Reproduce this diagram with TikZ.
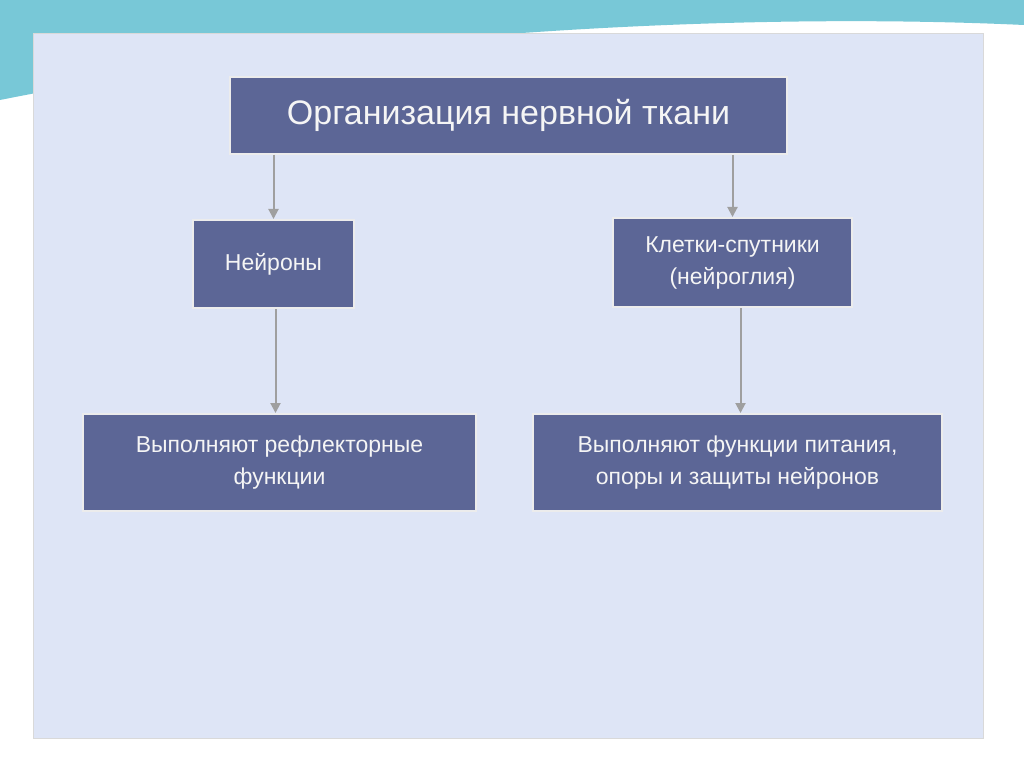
\documentclass[tikz,border=0pt]{standalone}
\usepackage{fontspec}
\setmainfont{Liberation Sans}
\usetikzlibrary{arrows.meta,positioning}
\definecolor{panel}{RGB}{222,229,246}
\definecolor{boxfill}{RGB}{92,102,150}
\definecolor{wave}{RGB}{120,200,215}
\tikzset{
  box/.style={draw=white!85!gray,line width=2pt,fill=boxfill,text=white!92!gray,align=center,font=\fontsize{23}{32}\selectfont},
  arr/.style={draw=gray!75,line width=2pt,-{Triangle[length=10pt,width=10pt]}}
}
\begin{document}
\begin{tikzpicture}[x=1pt,y=-1pt]
\useasboundingbox (0,0) rectangle (1024,767);
\fill[white] (0,0) rectangle (1024,767);
% top wave
\fill[wave!60] (0,0) rectangle (1024,20);
\fill[wave] (0,0) -- (1024,0) -- (1024,25) .. controls (700,10) and (300,40) .. (0,100) -- cycle;
\fill[white] (0,110) .. controls (300,50) and (700,20) .. (1024,35) -- (1024,45) .. controls (700,35) and (300,60) .. (0,120) -- cycle;
% panel
\fill[panel] (33,33) rectangle (983,738);
\draw[gray!30] (33,33) rectangle (983,738);
% nodes
\node[box,minimum width=557pt,minimum height=77pt,font=\fontsize{34}{40}\selectfont] (org) at (508.5,115.5) {Организация нервной ткани};
\node[box,minimum width=161pt,minimum height=88pt] (neur) at (273.5,264) {Нейроны};
\node[box,minimum width=239pt,minimum height=89pt] (glia) at (732.5,262.5) {Клетки-спутники\\(нейроглия)};
\node[box,minimum width=393pt,minimum height=97pt] (refl) at (279.5,462.5) {Выполняют рефлекторные\\функции};
\node[box,minimum width=409pt,minimum height=97pt] (feed) at (737.5,462.5) {Выполняют функции питания,\\опоры и защиты нейронов};
% arrows
\draw[arr] (org.south -| neur.north) -- (neur.north);
\draw[arr] (org.south -| glia.north) -- (glia.north);
\draw[arr] ([xshift=2pt]neur.south) -- ([xshift=2pt]neur.south |- refl.north);
\draw[arr] ([xshift=8pt]glia.south) -- ([xshift=8pt]glia.south |- feed.north);
\end{tikzpicture}
\end{document}
